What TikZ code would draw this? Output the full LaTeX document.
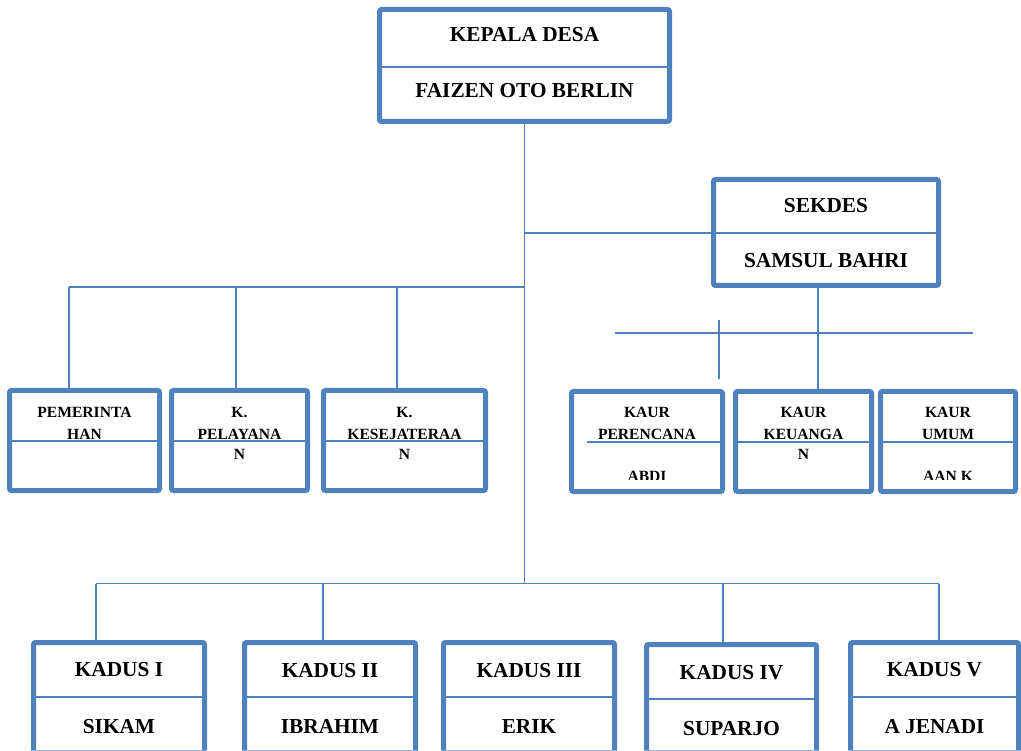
\documentclass[tikz,border=0pt]{standalone}
\usepackage{fontspec}
\setmainfont{Liberation Serif}
\definecolor{ob}{HTML}{4F81BD}
\begin{document}
\begin{tikzpicture}[x=1pt,y=-1pt,
  bx/.style={draw=ob, line width=5pt, rounded corners=2pt, fill=white, inner sep=0pt},
  div/.style={draw=ob, line width=1.5pt},
  conn/.style={draw=ob, line width=1.8pt},
  big/.style={font=\bfseries\fontsize{21.3}{24}\selectfont, anchor=base, inner sep=0pt},
  small/.style={font=\bfseries\fontsize{15.6}{19}\selectfont, anchor=base, inner sep=0pt}]
\useasboundingbox (0,0) rectangle (1021,751);
\clip (0,0) rectangle (1021,751);
% junction coordinates
\coordinate (m1) at (524.5,233);
\coordinate (m2) at (524.5,287);
\coordinate (m3) at (524.5,583.5);
\coordinate (l1) at (69,287);
\coordinate (l2) at (236,287);
\coordinate (l3) at (397,287);
\coordinate (s1) at (818,288);
\coordinate (h1) at (615,333);
\coordinate (h2) at (973,333);
\coordinate (t1) at (719,320);
\coordinate (t2) at (719,379);
\coordinate (b1) at (96,583.5);
\coordinate (b2) at (323,583.5);
\coordinate (b4) at (723,583.5);
\coordinate (b5) at (939,583.5);
% boxes
\node[bx, minimum width=290pt, minimum height=112pt] (kd) at (524.5,65.5) {};
\node[bx, minimum width=225pt, minimum height=106pt] (sk) at (826,232.5) {};
\node[bx, minimum width=150pt, minimum height=100pt] (pm) at (84.5,440.5) {};
\node[bx, minimum width=136pt, minimum height=100pt] (pl) at (239.5,440.5) {};
\node[bx, minimum width=162pt, minimum height=100pt] (ks) at (404.5,440.5) {};
\node[bx, minimum width=151pt, minimum height=100pt] (kp) at (647,441.5) {};
\node[bx, minimum width=136pt, minimum height=100pt] (ku) at (803.5,441.5) {};
\node[bx, minimum width=135pt, minimum height=100pt] (km) at (948,441.5) {};
\node[bx, minimum width=171pt, minimum height=120pt] (k1) at (119,702.5) {};
\node[bx, minimum width=171pt, minimum height=120pt] (k2) at (330,702.5) {};
\node[bx, minimum width=171pt, minimum height=120pt] (k3) at (529,702.5) {};
\node[bx, minimum width=170pt, minimum height=120pt] (k4) at (731.5,704.5) {};
\node[bx, minimum width=168pt, minimum height=120pt] (k5) at (934.5,702.5) {};
% connectors
\draw[conn] (kd.south) -- (m3);
\draw[conn] (m1) -- (sk.west |- m1);
\draw[conn] (l1) -- (m2);
\draw[conn] (l1) -- (l1 |- pm.north);
\draw[conn] (l2) -- (l2 |- pl.north);
\draw[conn] (l3) -- (l3 |- ks.north);
\draw[conn] (s1 |- sk.south) -- (s1 |- ku.north);
\draw[conn] (h1) -- (h2);
\draw[conn] (t1) -- (t2);
\draw[conn] (b1) -- (b5);
\draw[conn] (b1) -- (b1 |- k1.north);
\draw[conn] (b2) -- (b2 |- k2.north);
\draw[conn] (b4) -- (b4 |- k4.north);
\draw[conn] (b5) -- (b5 |- k5.north);
% dividers
\draw[div] (kd.west |- 0,67) -- (kd.east |- 0,67);
\draw[div] (sk.west |- 0,233) -- (sk.east |- 0,233);
\draw[div] (pm.west |- 0,441) -- (pm.east |- 0,441);
\draw[div] (pl.west |- 0,441) -- (pl.east |- 0,441);
\draw[div] (ks.west |- 0,441) -- (ks.east |- 0,441);
\draw[div] (587,442) -- (kp.east |- 0,442);
\draw[div] (ku.west |- 0,442) -- (ku.east |- 0,442);
\draw[div] (km.west |- 0,442) -- (km.east |- 0,442);
\foreach \k/\y in {k1/697,k2/697,k3/697,k4/699,k5/697}{
  \draw[div] (\k.west |- 0,\y) -- (\k.east |- 0,\y);
  \draw[div, line width=1.2pt, draw=ob!60] (\k.west |- 0,750.5) -- (\k.east |- 0,750.5);
}
% texts
\node[big] (t-kd1) at (kd.center |- 0,42) {KEPALA DESA};
\node[big] (t-kd2) at (kd.center |- 0,98) {FAIZEN OTO BERLIN};
\node[big] (t-sk1) at (sk.center |- 0,213) {SEKDES};
\node[big] (t-sk2) at (sk.center |- 0,268) {SAMSUL BAHRI};
\node[small] (t-pm1) at (pm.center |- 0,418) {PEMERINTA};
\node[small] (t-pm2) at (pm.center |- 0,439) {HAN};
\node[small] (t-pl1) at (pl.center |- 0,418) {K.};
\node[small] (t-pl2) at (pl.center |- 0,439) {PELAYANA};
\node[small] (t-pl3) at (pl.center |- 0,460) {N};
\node[small] (t-ks1) at (ks.center |- 0,418) {K.};
\node[small] (t-ks2) at (ks.center |- 0,439) {KESEJATERAA};
\node[small] (t-ks3) at (ks.center |- 0,460) {N};
\node[small] (t-kp1) at (kp.center |- 0,418) {KAUR};
\node[small] (t-kp2) at (kp.center |- 0,439) {PERENCANA};
\node[small] (t-ku1) at (ku.center |- 0,418) {KAUR};
\node[small] (t-ku2) at (ku.center |- 0,439) {KEUANGA};
\node[small] (t-ku3) at (ku.center |- 0,460) {N};
\node[small] (t-km1) at (km.center |- 0,418) {KAUR};
\node[small] (t-km2) at (km.center |- 0,439) {UMUM};
\begin{scope}
\clip (560,460) rectangle (1021,479.5);
\node[small] (t-kp3) at (kp.center |- 0,481.5) {ABDI};
\node[small] (t-km3) at (km.center |- 0,481.5) {AAN K};
\end{scope}
\node[big] (t-k11) at (k1.center |- 0,676) {KADUS I};
\node[big] (t-k12) at (k1.center |- 0,733) {SIKAM};
\node[big] (t-k21) at (k2.center |- 0,677) {KADUS II};
\node[big] (t-k22) at (k2.center |- 0,733) {IBRAHIM};
\node[big] (t-k31) at (k3.center |- 0,677) {KADUS III};
\node[big] (t-k32) at (k3.center |- 0,733) {ERIK};
\node[big] (t-k41) at (k4.center |- 0,679) {KADUS IV};
\node[big] (t-k42) at (k4.center |- 0,735) {SUPARJO};
\node[big] (t-k51) at (k5.center |- 0,676) {KADUS V};
\node[big] (t-k52) at (k5.center |- 0,733) {A JENADI};
\end{tikzpicture}
\end{document}
